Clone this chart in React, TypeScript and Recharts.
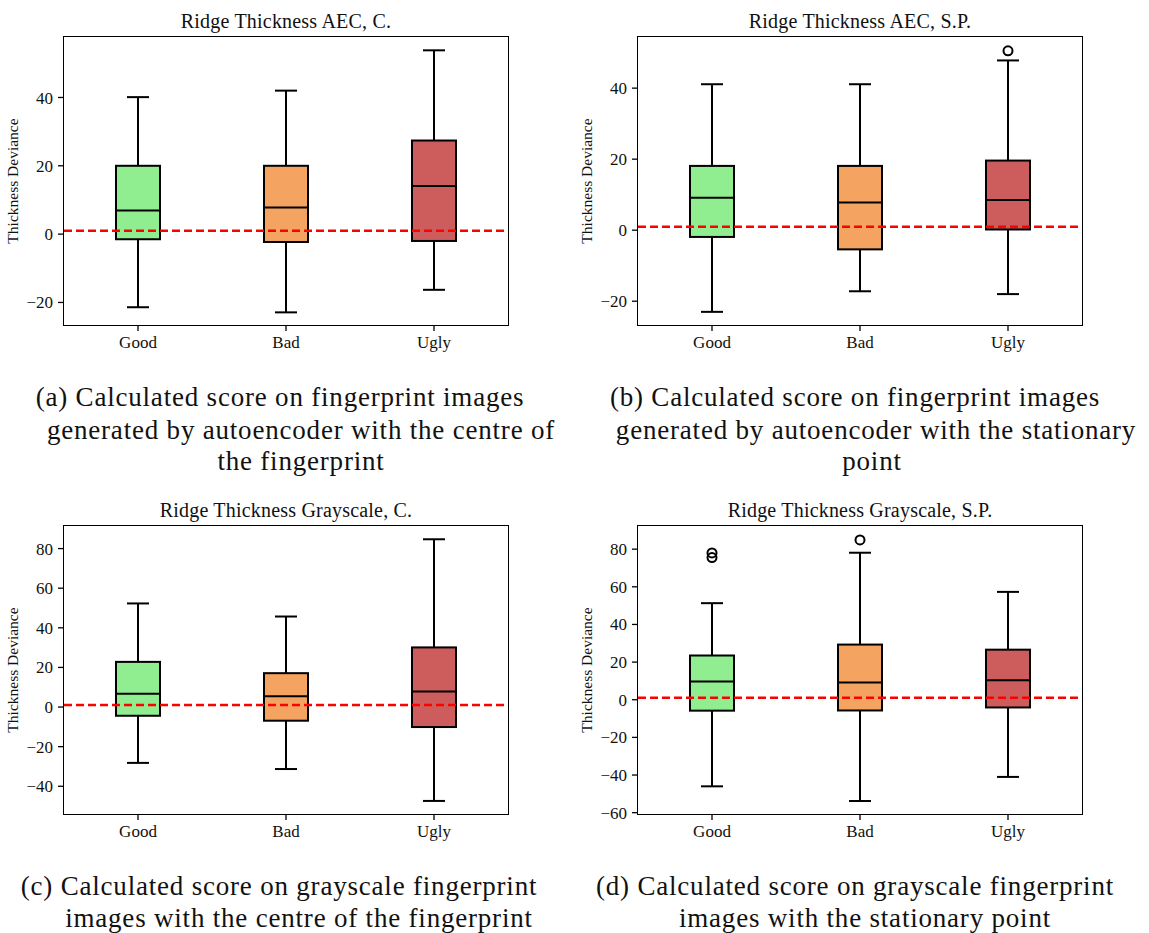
import React from "react";
import {
  ComposedChart,
  Bar,
  Scatter,
  XAxis,
  YAxis,
  ReferenceLine,
  Label,
} from "recharts";

// categories and colours
const categories = ["Good", "Bad", "Ugly"];
const colors = ["#90ee90", "#f4a460", "#cd5c5c"];

// box stats per panel: [whiskerLow, q1, median, q3, whiskerHigh]
const aecCentre = [
  [-21.4, -1.5, 6.9, 20.0, 40.1],
  [-22.9, -2.3, 7.8, 20.0, 42.0],
  [-16.3, -2.0, 14.1, 27.4, 53.8],
];
const aecStationary = [
  [-23.0, -1.9, 9.1, 18.1, 41.1],
  [-17.2, -5.4, 7.8, 18.1, 41.1],
  [-18.0, 0.2, 8.5, 19.6, 47.8],
];
const grayCentre = [
  [-28.2, -4.4, 6.7, 22.8, 52.3],
  [-31.3, -6.9, 5.5, 17.1, 45.7],
  [-47.4, -10.1, 7.9, 30.1, 84.7],
];
const grayStationary = [
  [-46.0, -5.8, 9.7, 23.5, 51.3],
  [-53.8, -5.7, 9.2, 29.3, 78.1],
  [-41.0, -4.1, 10.4, 26.6, 57.3],
];

// outliers per category
const aecCentreOut: number[][] = [[], [], []];
const aecStationaryOut: number[][] = [[], [], [50.5]];
const grayCentreOut: number[][] = [[], [], []];
const grayStationaryOut: number[][] = [[78.0, 75.5], [84.9], []];

const threshold = 1;

const FONT = "Liberation Serif, Times New Roman, serif";

function buildRows(stats: number[][], outs: number[][]) {
  return categories.map((name, i) => {
    const [lo, q1, med, q3, hi] = stats[i];
    return {
      name,
      idx: i,
      lo,
      q1,
      med,
      q3,
      hi,
      range: [lo, hi],
      out1: outs[i][0] ?? null,
      out2: outs[i][1] ?? null,
    };
  });
}

function BoxShape(props: any) {
  const { x, y, width, height, payload } = props;
  const top = Math.min(y, y + height);
  const h = Math.abs(height);
  const { lo, hi, q1, med, q3, idx } = payload;
  const pix = (v: number) => top + ((hi - v) / (hi - lo || 1)) * h;
  const cx = x + width / 2;
  const cap = width / 4;
  return (
    <g>
      <line x1={cx} x2={cx} y1={pix(hi)} y2={pix(q3)} stroke="#000" strokeWidth={2} />
      <line x1={cx} x2={cx} y1={pix(q1)} y2={pix(lo)} stroke="#000" strokeWidth={2} />
      <line x1={cx - cap} x2={cx + cap} y1={pix(hi)} y2={pix(hi)} stroke="#000" strokeWidth={2} />
      <line x1={cx - cap} x2={cx + cap} y1={pix(lo)} y2={pix(lo)} stroke="#000" strokeWidth={2} />
      <rect
        x={x}
        y={pix(q3)}
        width={width}
        height={pix(q1) - pix(q3)}
        fill={colors[idx]}
        stroke="#000"
        strokeWidth={2}
      />
      <line x1={x} x2={x + width} y1={pix(med)} y2={pix(med)} stroke="#000" strokeWidth={2} />
    </g>
  );
}

function OutlierDot(props: any) {
  const { cx, cy } = props;
  if (cx == null || cy == null || isNaN(cy)) return <g />;
  return <circle cx={cx} cy={cy} r={4.5} fill="none" stroke="#000" strokeWidth={2} />;
}

const fmt = (v: number) => (v < 0 ? "\u2212" + Math.abs(v) : String(v));

function Panel({
  left,
  top,
  title,
  stats,
  outs,
  domain,
  ticks,
}: {
  left: number;
  top: number;
  title: string;
  stats: number[][];
  outs: number[][];
  domain: [number, number];
  ticks: number[];
}) {
  const rows = buildRows(stats, outs);
  return (
    <div
      style={{
        position: "absolute",
        left,
        top,
        width: 520,
        height: 370,
        fontFamily: FONT,
      }}
    >
      <div
        style={{
          position: "absolute",
          left: 64,
          width: 444,
          top: 8,
          textAlign: "center",
          fontFamily: FONT,
          fontSize: 20,
          letterSpacing: "0.2px",
          lineHeight: "26px",
          color: "#111",
          whiteSpace: "nowrap",
        }}
      >
        {title}
      </div>
      <ComposedChart
        width={520}
        height={370}
        data={rows}
        margin={{ top: 37, right: 12, bottom: 5, left: 4 }}
        barCategoryGap={0}
        style={{ fontFamily: FONT }}
      >
        <XAxis
          dataKey="name"
          height={40}
          tickSize={6}
          tickMargin={5}
          axisLine={false}
          tickLine={{ stroke: "#000", strokeWidth: 1.3 }}
          tick={{ fill: "#111", fontFamily: FONT, fontSize: 17 }}
        />
        <YAxis
          width={60}
          type="number"
          domain={domain}
          ticks={ticks}
          allowDataOverflow
          tickSize={6}
          tickMargin={5}
          tickFormatter={fmt}
          axisLine={false}
          tickLine={{ stroke: "#000", strokeWidth: 1.3 }}
          tick={{ fill: "#111", fontFamily: FONT, fontSize: 17 }}
        >
          <Label
            content={(p: any) => {
              const vb = p.viewBox;
              const cy = vb.y + vb.height / 2;
              return (
                <text
                  x={vb.x + 10}
                  y={cy}
                  transform={`rotate(-90, ${vb.x + 10}, ${cy})`}
                  textAnchor="middle"
                  dominantBaseline="middle"
                  fontFamily={FONT}
                  fontSize={15.5}
                  fill="#111"
                >
                  Thickness Deviance
                </text>
              );
            }}
          />
        </YAxis>
        <Bar dataKey="range" barSize={44} shape={<BoxShape />} isAnimationActive={false} />
        <Scatter dataKey="out1" shape={<OutlierDot />} isAnimationActive={false} />
        <Scatter dataKey="out2" shape={<OutlierDot />} isAnimationActive={false} />
        <ReferenceLine
          y={threshold}
          stroke="#ff0000"
          strokeWidth={2.5}
          strokeDasharray="8 4"
        />
      </ComposedChart>
      {/* plot frame */}
      <div
        style={{
          position: "absolute",
          boxSizing: "border-box",
          left: 63.35,
          top: 36.35,
          width: 445.3,
          height: 289.3,
          border: "1.3px solid #000",
          pointerEvents: "none",
        }}
      />
    </div>
  );
}

function Caption({ lines }: { lines: { text: string; cx: number; cy: number }[] }) {
  return (
    <>
      {lines.map((l) => (
        <div
          key={l.text}
          style={{
            position: "absolute",
            left: l.cx - 300,
            width: 600,
            top: l.cy - 16,
            height: 32,
            lineHeight: "32px",
            textAlign: "center",
            fontFamily: FONT,
            fontSize: 27,
            letterSpacing: "0.8px",
            color: "#111",
            whiteSpace: "nowrap",
          }}
        >
          {l.text}
        </div>
      ))}
    </>
  );
}

export default function App() {
  return (
    <div
      style={{
        position: "absolute",
        left: 0,
        top: 0,
        width: 1149,
        height: 933,
        background: "#fff",
        overflow: "hidden",
        fontFamily: FONT,
      }}
    >
      <Panel
        left={0}
        top={0}
        title="Ridge Thickness AEC, C."
        stats={aecCentre}
        outs={aecCentreOut}
        domain={[-26.6, 57.7]}
        ticks={[-20, 0, 20, 40]}
      />
      <Panel
        left={574}
        top={0}
        title="Ridge Thickness AEC, S.P."
        stats={aecStationary}
        outs={aecStationaryOut}
        domain={[-26.7, 54.4]}
        ticks={[-20, 0, 20, 40]}
      />
      <Panel
        left={0}
        top={489}
        title="Ridge Thickness Grayscale, C."
        stats={grayCentre}
        outs={grayCentreOut}
        domain={[-54, 91.4]}
        ticks={[-40, -20, 0, 20, 40, 60, 80]}
      />
      <Panel
        left={574}
        top={489}
        title="Ridge Thickness Grayscale, S.P."
        stats={grayStationary}
        outs={grayStationaryOut}
        domain={[-60.7, 92.3]}
        ticks={[-60, -40, -20, 0, 20, 40, 60, 80]}
      />
      <Caption
        lines={[
          { text: "(a) Calculated score on fingerprint images", cx: 280, cy: 397 },
          { text: "generated by autoencoder with the centre of", cx: 301, cy: 430 },
          { text: "the fingerprint", cx: 301, cy: 461 },
        ]}
      />
      <Caption
        lines={[
          { text: "(b) Calculated score on fingerprint images", cx: 855, cy: 397 },
          { text: "generated by autoencoder with the stationary", cx: 876, cy: 430 },
          { text: "point", cx: 872, cy: 461 },
        ]}
      />
      <Caption
        lines={[
          { text: "(c) Calculated score on grayscale fingerprint", cx: 279, cy: 886 },
          { text: "images with the centre of the fingerprint", cx: 299, cy: 918 },
        ]}
      />
      <Caption
        lines={[
          { text: "(d) Calculated score on grayscale fingerprint", cx: 855, cy: 886 },
          { text: "images with the stationary point", cx: 865, cy: 918 },
        ]}
      />
    </div>
  );
}
